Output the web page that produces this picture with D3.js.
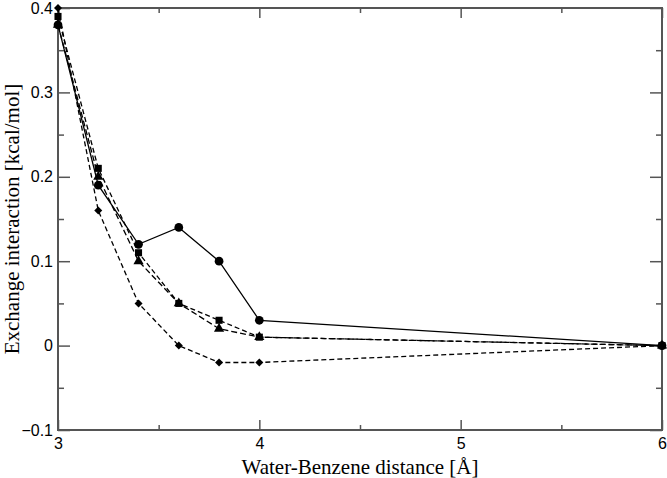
<!DOCTYPE html>
<html>
<head>
<meta charset="utf-8">
<script src="https://cdn.jsdelivr.net/npm/d3@7"></script>
<style>
  body { margin: 0; background: #fff; }
  .tick text { font-family: 'Liberation Sans', Arial, sans-serif; font-size: 16px; fill: #000; }
  .title { font-family: 'Liberation Serif', 'Times New Roman', serif; font-size: 21px; fill: #000; }
</style>
</head>
<body>
<script>
// distances in Angstrom
var distance = [3.0, 3.2, 3.4, 3.6, 3.8, 4.0, 6.0];

// exchange interaction series, kcal/mol
var circles   = [0.38, 0.19, 0.12, 0.14, 0.10, 0.03, 0.0];
var squares   = [0.39, 0.21, 0.11, 0.05, 0.03, 0.01, 0.0];
var triangles = [0.38, 0.20, 0.10, 0.05, 0.02, 0.01, 0.0];
var diamonds  = [0.40, 0.16, 0.05, 0.00, -0.02, -0.02, 0.0];

var xTicks = [3, 4, 5, 6];
var xMinor = [3.5, 4.5, 5.5];
var yTicks = [-0.1, 0, 0.1, 0.2, 0.3, 0.4];
var yMinor = [-0.05, 0.05, 0.15, 0.25, 0.35];

var margin = { top: 8, right: 5, bottom: 48, left: 58 },
    width = 667 - margin.left - margin.right,
    height = 478 - margin.top - margin.bottom;

var svg = d3
    .select('body')
    .append('svg')
    .attr('width', 667)
    .attr('height', 478)
    .append('g')
    .attr('transform', 'translate(' + margin.left + ',' + margin.top + ')');

var xScale = d3.scaleLinear().domain([3, 6]).range([0, width]);
var yScale = d3.scaleLinear().domain([-0.1, 0.4]).range([height, 0]);

var frameColor = '#555';

function styleAxis(g) {
    g.select('.domain').remove();
    g.selectAll('.tick line').attr('stroke', frameColor).attr('stroke-width', 1.5);
}

// bottom axis, ticks inward
svg.append('g')
    .attr('transform', 'translate(0,' + height + ')')
    .call(d3.axisBottom(xScale).tickValues(xTicks).tickSize(-10).tickPadding(8).tickFormat(d3.format('d')))
    .call(styleAxis);
svg.append('g')
    .attr('transform', 'translate(0,' + height + ')')
    .call(d3.axisBottom(xScale).tickValues(xMinor).tickSize(-5).tickFormat(''))
    .call(styleAxis);
// top axis
svg.append('g')
    .call(d3.axisTop(xScale).tickValues(xTicks).tickSize(-10).tickFormat(''))
    .call(styleAxis);
svg.append('g')
    .call(d3.axisTop(xScale).tickValues(xMinor).tickSize(-5).tickFormat(''))
    .call(styleAxis);

// left axis
svg.append('g')
    .call(d3.axisLeft(yScale).tickValues(yTicks).tickSize(-12).tickPadding(5)
        .tickFormat(function (d) { return d === 0 ? '0' : d3.format('.1f')(d); }))
    .call(styleAxis);
svg.append('g')
    .call(d3.axisLeft(yScale).tickValues(yMinor).tickSize(-6).tickFormat(''))
    .call(styleAxis);
// right axis
svg.append('g')
    .attr('transform', 'translate(' + width + ',0)')
    .call(d3.axisRight(yScale).tickValues(yTicks).tickSize(-12).tickFormat(''))
    .call(styleAxis);
svg.append('g')
    .attr('transform', 'translate(' + width + ',0)')
    .call(d3.axisRight(yScale).tickValues(yMinor).tickSize(-6).tickFormat(''))
    .call(styleAxis);

// frame
svg.append('rect')
    .attr('width', width)
    .attr('height', height)
    .attr('fill', 'none')
    .attr('stroke', frameColor)
    .attr('stroke-width', 2);

var series = [
    { values: diamonds, dash: '5,3', symbol: d3.symbolSquare, size: 32, rot: 45 },
    { values: triangles, dash: '6,3', symbol: d3.symbolTriangle, size: 45, rot: 0 },
    { values: squares, dash: '5,3', symbol: d3.symbolSquare, size: 50, rot: 0 },
    { values: circles, dash: null, symbol: d3.symbolCircle, size: 60, rot: 0 }
];

var line = d3.line()
    .x(function (d) { return xScale(d[0]); })
    .y(function (d) { return yScale(d[1]); });

series.forEach(function (s) {
    var pts = d3.zip(distance, s.values);
    svg.append('path')
        .datum(pts)
        .attr('d', line)
        .attr('fill', 'none')
        .attr('stroke', '#000')
        .attr('stroke-width', 1.3)
        .attr('stroke-dasharray', s.dash);
    svg.append('g')
        .selectAll('path')
        .data(pts)
        .enter()
        .append('path')
        .attr('transform', function (d) {
            return 'translate(' + xScale(d[0]) + ',' + yScale(d[1]) + ') rotate(' + s.rot + ')';
        })
        .attr('d', d3.symbol().type(s.symbol).size(s.size))
        .attr('fill', '#000');
});

// axis titles
svg.append('text')
    .attr('class', 'title')
    .attr('x', width / 2)
    .attr('y', height + 44)
    .attr('text-anchor', 'middle')
    .text('Water-Benzene distance [Å]');

svg.append('text')
    .attr('class', 'title')
    .attr('transform', 'translate(' + (-margin.left + 19) + ',' + height / 2 + ') rotate(-90)')
    .attr('text-anchor', 'middle')
    .text('Exchange interaction [kcal/mol]');
</script>
</body>
</html>
